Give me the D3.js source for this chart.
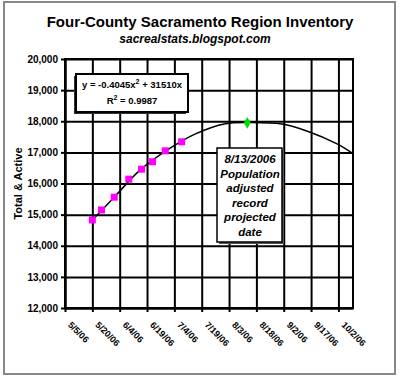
<!DOCTYPE html>
<html>
<head>
<meta charset="utf-8">
<script src="https://cdn.jsdelivr.net/npm/d3@7"></script>
<style>
body { margin: 0; background: #fff; }
svg { display: block; font-family: "Liberation Sans", Arial, sans-serif; }
.axis text { font-weight: bold; fill: #000; }
.axis path, .axis line { stroke: #000; stroke-width: 2; }
.grid line { stroke: #000; stroke-width: 2; }
.grid path { display: none; }
</style>
</head>
<body>
<div id="chart"></div>
<script>
// inventory points
const pointDates = ["5/20/2006", "5/25/2006", "6/1/2006", "6/9/2006", "6/16/2006", "6/22/2006", "6/29/2006", "7/8/2006"];
const pointValues = [14830, 15150, 15560, 16140, 16460, 16700, 17050, 17340];

// polynomial trend line
const trendDates = ["5/20/2006", "6/1/2006", "6/15/2006", "7/1/2006", "7/15/2006", "8/1/2006", "8/15/2006", "9/1/2006", "9/15/2006", "10/1/2006", "10/10/2006"];
const trendValues = [14830, 15560, 16420, 17110, 17580, 17920, 17960, 17910, 17680, 17280, 16960];

// projected record
const recordDate = "8/13/2006";
const recordValue = 17950;

const yTicks = [12000, 13000, 14000, 15000, 16000, 17000, 18000, 19000, 20000];
const xTickLabels = ["5/5/06", "5/20/06", "6/4/06", "6/19/06", "7/4/06", "7/19/06", "8/3/06", "8/18/06", "9/2/06", "9/17/06", "10/2/06"];
const xDomain = ["5/5/2006", "10/10/2006"];

const noteLines = ["8/13/2006", "Population", "adjusted", "record", "projected", "date"];

function chart() {
    const W = 400, H = 380;
    const margin = {top: 59, right: 47, bottom: 72, left: 65};
    const width = W - margin.left - margin.right;
    const height = H - margin.top - margin.bottom;

    const parseFull = d3.timeParse("%m/%d/%Y");
    const parseShort = d3.timeParse("%m/%d/%y");

    const root = d3.select("#chart").append("svg")
        .attr("width", W)
        .attr("height", H);

    // outer frame
    root.append("rect")
        .attr("x", 4).attr("y", 2)
        .attr("width", 391).attr("height", 372)
        .attr("fill", "#fff")
        .attr("stroke", "#888")
        .attr("stroke-width", 2);

    root.append("text")
        .attr("x", 200).attr("y", 27)
        .attr("text-anchor", "middle")
        .style("font-size", "15px")
        .style("font-weight", "bold")
        .text("Four-County Sacramento Region Inventory");

    root.append("text")
        .attr("x", 195).attr("y", 43)
        .attr("text-anchor", "middle")
        .style("font-size", "12px")
        .style("font-weight", "bold")
        .style("font-style", "italic")
        .text("sacrealstats.blogspot.com");

    const svg = root.append("g")
        .attr("transform", `translate(${margin.left}, ${margin.top})`);

    const x = d3.scaleTime()
        .domain(xDomain.map(parseFull))
        .range([0, width]);
    const y = d3.scaleLinear()
        .domain([12000, 20000])
        .range([height, 0]);

    const xTickDates = xTickLabels.map(parseShort);

    // gridlines
    svg.append("g")
        .attr("class", "grid")
        .call(d3.axisLeft(y).tickValues(yTicks).tickSize(-width).tickFormat(""));
    svg.append("g")
        .attr("class", "grid")
        .attr("transform", `translate(0, ${height})`)
        .call(d3.axisBottom(x).tickValues(xTickDates).tickSize(height).tickSizeOuter(0).tickFormat(""))
        .selectAll("line").attr("y2", -height);

    svg.append("rect")
        .attr("width", width).attr("height", height)
        .attr("fill", "none")
        .attr("stroke", "#000")
        .attr("stroke-width", 2);

    // axes
    svg.append("g")
        .attr("class", "axis")
        .call(d3.axisLeft(y).tickValues(yTicks).tickSize(4).tickSizeOuter(0).tickPadding(3))
        .selectAll("text").style("font-size", "10px");

    const xAxis = svg.append("g")
        .attr("class", "axis")
        .attr("transform", `translate(0, ${height})`)
        .call(d3.axisBottom(x).tickValues(xTickDates).tickSize(4).tickSizeOuter(0)
            .tickFormat((d, i) => xTickLabels[i]));
    xAxis.selectAll("text")
        .attr("x", 0).attr("y", 0).attr("dy", null)
        .attr("transform", "translate(2, 17.5) rotate(45)")
        .style("text-anchor", "start")
        .style("font-size", "9px");

    root.append("text")
        .attr("transform", `translate(22, ${margin.top + height / 2}) rotate(-90)`)
        .attr("text-anchor", "middle")
        .style("font-size", "11px")
        .style("font-weight", "bold")
        .text("Total & Active");

    // trend line
    svg.append("clipPath").attr("id", "plotClip")
        .append("rect").attr("width", width).attr("height", height);

    const trend = trendDates.map((d, i) => ({date: parseFull(d), value: trendValues[i]}));
    svg.append("path")
        .datum(trend)
        .attr("clip-path", "url(#plotClip)")
        .attr("fill", "none")
        .attr("stroke", "#000")
        .attr("stroke-width", 1.5)
        .attr("d", d3.line()
            .x(d => x(d.date))
            .y(d => y(d.value))
            .curve(d3.curveCatmullRom));

    // data points
    const points = pointDates.map((d, i) => ({date: parseFull(d), value: pointValues[i]}));
    svg.selectAll(".pt")
        .data(points)
        .join("rect")
        .attr("class", "pt")
        .attr("x", d => x(d.date) - 3.5)
        .attr("y", d => y(d.value) - 3.5)
        .attr("width", 7).attr("height", 7)
        .attr("fill", "#ff00ff");

    svg.append("path")
        .attr("transform", `translate(${x(parseFull(recordDate))}, ${y(recordValue)})`)
        .attr("d", d3.symbol(d3.symbolDiamond, 40)())
        .attr("fill", "#00e000");

    // equation box
    const eq = root.append("g").attr("transform", "translate(76, 74)");
    eq.append("rect")
        .attr("x", -2).attr("y", 2)
        .attr("width", 112).attr("height", 38)
        .attr("fill", "#333");
    eq.append("rect")
        .attr("width", 112).attr("height", 38)
        .attr("fill", "#fff")
        .attr("stroke", "#000")
        .attr("stroke-width", 2);
    const l1 = eq.append("text")
        .attr("x", 56).attr("y", 14)
        .attr("text-anchor", "middle")
        .style("font-size", "9.5px")
        .style("font-weight", "bold");
    l1.append("tspan").text("y = -0.4045x");
    l1.append("tspan").attr("dy", -4).style("font-size", "7px").text("2");
    l1.append("tspan").attr("dy", 4).text(" + 31510x");
    const l2 = eq.append("text")
        .attr("x", 56).attr("y", 30)
        .attr("text-anchor", "middle")
        .style("font-size", "9.5px")
        .style("font-weight", "bold");
    l2.append("tspan").text("R");
    l2.append("tspan").attr("dy", -4).style("font-size", "7px").text("2");
    l2.append("tspan").attr("dy", 4).text(" = 0.9987");

    // note box
    const note = root.append("g").attr("transform", "translate(217, 148)");
    note.append("rect")
        .attr("x", 2).attr("y", 2)
        .attr("width", 65).attr("height", 94)
        .attr("fill", "#555");
    note.append("rect")
        .attr("width", 65).attr("height", 94)
        .attr("fill", "#fff")
        .attr("stroke", "#000")
        .attr("stroke-width", 1.5);
    note.selectAll("text")
        .data(noteLines)
        .join("text")
        .attr("x", 33)
        .attr("y", (d, i) => 15 + i * 14.5)
        .attr("text-anchor", "middle")
        .style("font-size", "11.5px")
        .style("font-weight", "bold")
        .style("font-style", "italic")
        .text(d => d);
}

chart();
</script>
</body>
</html>
